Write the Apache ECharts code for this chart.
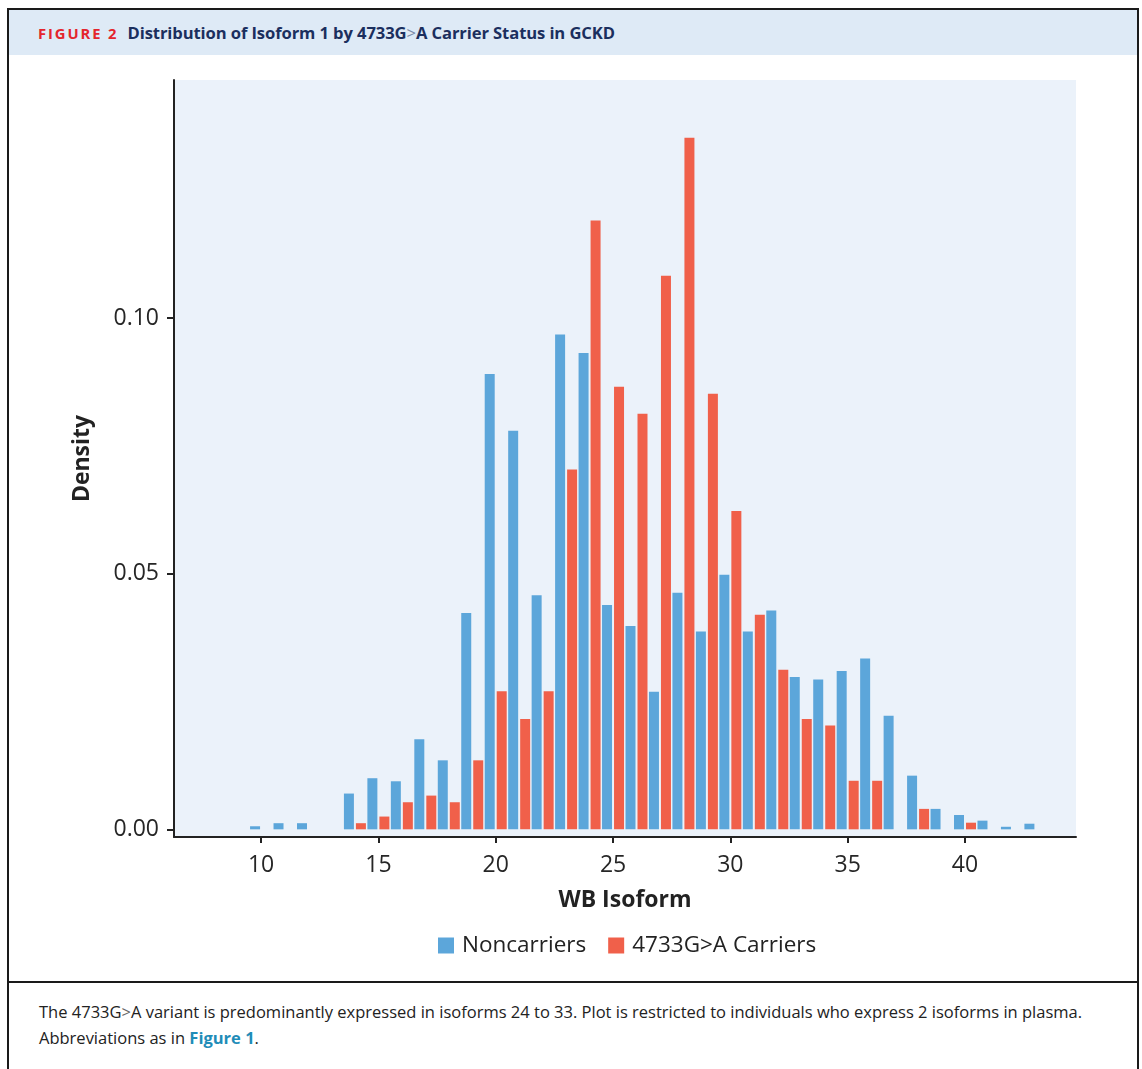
<!DOCTYPE html>
<html>
<head>
<meta charset="utf-8">
<script src="https://cdn.jsdelivr.net/npm/echarts@6/dist/echarts.min.js"></script>
<style>
  html, body { margin:0; padding:0; background:#fff; }
  body { width:1142px; height:1069px; position:relative; overflow:hidden; font-family:"Open Sans", sans-serif; }
  #frame { position:absolute; left:7px; top:8px; width:1128px; height:1070px; border:2px solid #1a1a1a; border-bottom:none; box-sizing:content-box; }
  #header { position:absolute; left:9px; top:10px; width:1128px; height:45px; background:#DEEAF6; }
  #htext { position:absolute; left:38px; top:21px; font-size:16.6px; font-weight:bold; color:#1B2F5E; white-space:nowrap; letter-spacing:-0.1px; }
  #htext .fig { color:#E4252D; letter-spacing:1.9px; font-size:14.8px; margin-right:9px; }
  #htext .gt { font-weight:normal; color:#7a8aa8; }
  #sep { position:absolute; left:9px; top:981px; width:1128px; height:2px; background:#1a1a1a; }
  #caption { position:absolute; left:39px; top:999px; width:1090px; font-size:16.5px; line-height:26px; color:#222; white-space:nowrap; }
  #caption .gt { color:#666; }
  #caption b { color:#1F8CB8; }
  #chart { position:absolute; left:0; top:0; width:1142px; height:980px; z-index:2; }
</style>
</head>
<body>
<div id="frame"></div>
<div id="header"></div>
<div id="htext"><span class="fig">FIGURE 2</span>Distribution of Isoform 1 by 4733G<span class="gt">&gt;</span>A Carrier Status in GCKD</div>
<div id="sep"></div>
<div id="caption">The 4733G<span class="gt">&gt;</span>A variant is predominantly expressed in isoforms 24 to 33. Plot is restricted to individuals who express 2 isoforms in plasma.<br>Abbreviations as in <b>Figure 1</b>.</div>
<div id="chart"></div>
<script>
// ---- data ----
var isoforms = [10,11,12,13,14,15,16,17,18,19,20,21,22,23,24,25,26,27,28,29,30,31,32,33,34,35,36,37,38,39,40,41,42,43];
var noncarriers = [0.0006,0.0012,0.0012,null,0.0070,0.0100,0.0094,0.0176,0.0135,0.0423,0.0891,0.0780,0.0458,0.0968,0.0932,0.0439,0.0398,0.0269,0.0463,0.0387,0.0498,0.0387,0.0428,0.0298,0.0293,0.0310,0.0334,0.0222,0.0105,0.0040,0.0028,0.0017,0.0005,0.0011];
var carriers = [null,null,null,null,0.0012,0.0025,0.0053,0.0066,0.0053,0.0135,0.0270,0.0216,0.0270,0.0704,0.1191,0.0866,0.0813,0.1083,0.1353,0.0852,0.0623,0.0420,0.0312,0.0216,0.0203,0.0095,0.0095,null,0.0040,null,0.0013,null,null,null];
var seriesNames = ['Noncarriers', '4733G>A Carriers'];
var xTicks = [10,15,20,25,30,35,40];
var yTicks = [0, 0.05, 0.10];

function pairs(vals) {
  var out = [];
  for (var i = 0; i < isoforms.length; i++) {
    if (vals[i] !== null && vals[i] !== undefined) out.push([isoforms[i], vals[i]]);
  }
  return out;
}

var chart = echarts.init(document.getElementById('chart'), null, {renderer:'canvas'});
var font = 'Open Sans';
chart.setOption({
  animation: false,
  textStyle: { fontFamily: font },
  grid: { left:174, top:80, width:902, height:757, show:true, backgroundColor:'#EBF2FA', borderWidth:0 },
  legend: {
    data: seriesNames, top: 929, left: 433, icon: 'rect',
    itemWidth: 16, itemHeight: 16, itemGap: 22,
    textStyle: { fontSize: 22.5, color: '#222', fontFamily: font, padding: [0, 0, 0, 3] }
  },
  xAxis: {
    type: 'value', min: 6.29, max: 44.73,
    name: 'WB Isoform', nameLocation: 'middle', nameGap: 52,
    nameTextStyle: { fontSize: 23, fontWeight: 'bold', color: '#222', fontFamily: font },
    axisLine: { onZero: false, lineStyle: { color: '#222', width: 2 } },
    axisTick: { customValues: xTicks, length: 6, lineStyle: { color: '#222', width: 2 } },
    axisLabel: { customValues: xTicks, fontSize: 23, color: '#262626', margin: 17, fontFamily: font },
    splitLine: { show: false }
  },
  yAxis: {
    type: 'value', min: -0.0015, max: 0.1466,
    name: 'Density', nameLocation: 'middle', nameGap: 80,
    nameTextStyle: { fontSize: 23, fontWeight: 'bold', color: '#222', fontFamily: font },
    axisLine: { show: true, onZero: false, lineStyle: { color: '#222', width: 2 } },
    axisTick: { show: true, customValues: yTicks, length: 7, lineStyle: { color: '#222', width: 2 } },
    axisLabel: { customValues: yTicks, fontSize: 23, color: '#262626', margin: 15, fontFamily: font,
      formatter: function (v) { return v.toFixed(2); } },
    splitLine: { show: false }
  },
  series: [
    { name: seriesNames[0], type: 'bar', data: pairs(noncarriers), barWidth: 10, barGap: '20%',
      itemStyle: { color: '#5CA6DA' } },
    { name: seriesNames[1], type: 'bar', data: pairs(carriers), barWidth: 10, barGap: '20%',
      itemStyle: { color: '#F0604A' } }
  ]
});
</script>
</body>
</html>
